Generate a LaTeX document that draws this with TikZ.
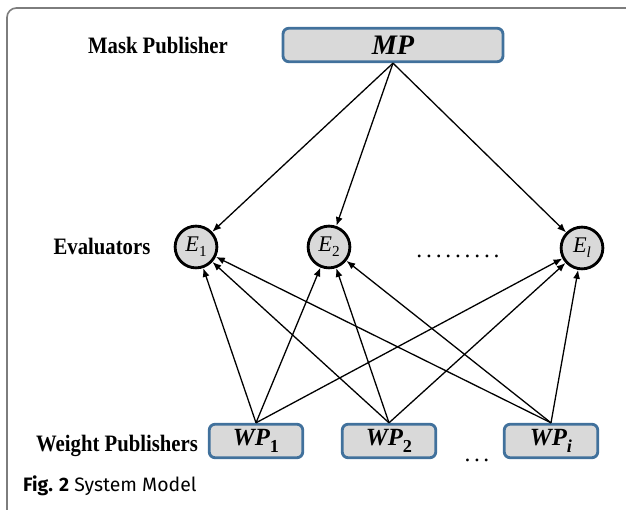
\documentclass[tikz,border=0pt]{standalone}
\usepackage{fontspec}
\setmainfont{Liberation Serif}
\newfontfamily\lblfont[FakeStretch=0.88]{Liberation Serif}
\newfontfamily\capfont{Fira Sans}
\usetikzlibrary{arrows.meta}
\definecolor{boxgray}{RGB}{217,217,217}
\definecolor{boxblue}{RGB}{65,113,156}
\definecolor{framegray}{RGB}{125,125,125}
\newcommand{\wpsub}[1]{\raisebox{-6.5pt}{\fontsize{15.5}{15}\selectfont #1}}
\newcommand{\esub}[1]{\raisebox{-4pt}{\fontsize{13}{13}\selectfont #1}}

\begin{document}
\begin{tikzpicture}
	[   x=0.85pt,y=-0.85pt,
		pnode/.style={draw=boxblue,fill=boxgray,line width=2.4pt,rounded corners=5pt,minimum width=#1,minimum height=28.5pt,inner sep=0pt,font=\fontsize{21}{22}\selectfont\bfseries\itshape},
		pnode/.default=79.5pt,
		enode/.style={draw=black,fill=boxgray,line width=2.4pt,circle,minimum size=35.5pt,inner sep=0pt,font=\fontsize{19}{20}\selectfont\itshape},
		grouplabel/.style={anchor=base,inner sep=0pt,font=\lblfont\fontsize{20}{22}\selectfont\bfseries},
	]
	\tikzset{normal arrow/.style={draw,line width=1.1pt,-{Latex[length=7.5pt,width=6pt]}}}
	\useasboundingbox (0,0) rectangle (626,510);
	\draw[framegray,line width=1.4pt,rounded corners=8pt] (7,510) -- (7,8) -- (626,8);
	
	% layer labels
	\node[grouplabel] (l-mask) at (158,54) {Mask Publisher};
	\node[grouplabel] (l-eval) at (102,255) {Evaluators};
	\node[grouplabel] (l-weight) at (117,452) {Weight Publishers};
	
	\node[pnode=187pt,font=\fontsize{24}{26}\selectfont\bfseries\itshape] (mp) at (393,45) {MP};
	
	\node[enode] (e-1) at (196,247) {E\esub{\upshape 1}};
	\node[enode] (e-2) at (329,247) {E\esub{\upshape 2}};
	\node[enode] (e-l) at (582,248) {E\esub{l}};
	\node[anchor=base,font=\fontsize{20}{20}\selectfont] (e-dots) at (458,258)
		{.\hspace{3.2pt}.\hspace{3.2pt}.\hspace{3.2pt}.\hspace{3.2pt}.\hspace{3.2pt}.\hspace{3.2pt}.\hspace{3.2pt}.\hspace{3.2pt}.};
	
	\node[pnode] (wp-1) at (256,441) {WP\wpsub{\upshape 1}};
	\node[pnode] (wp-2) at (389,441) {WP\wpsub{\upshape 2}};
	\node[pnode] (wp-i) at (551,441) {WP\wpsub{i}};
	\node[anchor=base,font=\fontsize{20}{20}\selectfont] (wp-dots) at (477,462) {.\hspace{3pt}.\hspace{3pt}.};
	
	\node[anchor=base west,inner sep=0pt,font=\capfont\fontsize{16.5}{18}\selectfont] (cap) at (23,492) {\textbf{Fig. 2} System Model};
	
	\foreach \e in {1,2,l}
	{
		\path[normal arrow] (mp.south) -- (e-\e);
		\foreach \w in {1,2,i}
		{
			\path[normal arrow] (wp-\w.north) -- (e-\e);
		}
	}
\end{tikzpicture}
\end{document}
